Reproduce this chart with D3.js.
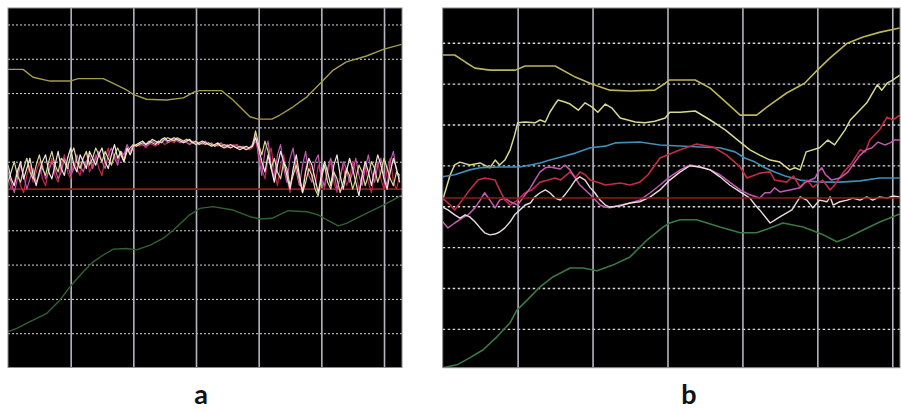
<!DOCTYPE html>
<html>
<head>
<meta charset="utf-8">
<script src="https://cdn.jsdelivr.net/npm/d3@7"></script>
<style>
body { margin: 0; background: #fff; }
svg { display: block; }
</style>
</head>
<body>
<script>
// ---- panel a data (x in grid units, 10 per vertical line; y in grid units, 10 per dotted line)
var aGridX = [10, 20, 30, 40, 50, 60];
var aGridY = [10, 20, 30, 40, 50, 60, 70, 80, 90, 100];
var aBaseline = 52.0;

var aOlive = [[0,86.9],[2.4,86.9],[4.0,84.6],[6.7,83.5],[9.9,83.5],[11.2,84.2],[15.2,84.2],[16.8,82.8],
  [18.9,80.9],[20.0,79.6],[22.1,78.2],[25.3,78.0],[28.0,78.6],[29.8,80.4],[30.6,80.7],[34.1,80.7],
  [35.9,78.0],[38.6,73.1],[39.9,72.4],[42.1,72.4],[43.4,73.6],[45.5,76.0],[47.7,78.9],[49.8,82.8],
  [51.9,86.7],[54.0,89.1],[57.2,90.8],[60.0,92.8],[62.8,94.2]];

var aGreen = [[0,10.6],[0.3,10.6],[1.4,11.4],[4.0,13.8],[6.2,15.8],[8.3,19.7],[10.1,24.0],[12.0,27.9],
  [13.6,30.8],[15.2,32.8],[16.8,34.5],[18.9,34.7],[20.5,34.3],[22.7,35.7],[24.8,37.7],[26.4,40.1],
  [29.0,44.5],[30.6,46.4],[32.7,46.9],[35.9,45.9],[38.6,44.0],[40.2,43.3],[42.1,43.5],[44.7,45.7],
  [47.7,45.4],[49.5,44.5],[50.9,43.0],[52.7,41.3],[54.0,42.0],[56.7,44.5],[59.4,46.9],[61.4,48.8],[62.9,50.3]];

// noisy traces, one value every 0.5 x units
var aCrimson = [55,52,54,58,53,51,56,59,54,57, 60,55,53,58,61,56,54,59,62,57,
  55,60,58,56,61,63,57,59,62,58, 56,61,64,59,62,60,63,61,64,62,
  64,65,64.5,65,64,65.5,65,64.5,65.5,66, 65,65.5,66,65.5,66.5,66,65.5,66,65,65.5,
  66,65.5,65,65.5,65,64.5,65,64.5,65,64.5, 64,64.5,65,64.5,64,64.5,64,63.5,64,
  66,63,58,55,61,64,57,53,59,62, 55,51,57,60,54,52,58,61,55,53,
  59,56,52,57,60,54,51,56,59,53, 55,60,57,52,55,59,54,51,57,60, 55,52,58,61,54,52,56];
var aMagenta = [57,54,51,55,59,56,52,55,58,54, 56,59,55,57,60,58,55,57,61,59,
  56,58,62,59,57,60,62,58,61,63, 60,58,62,64,61,59,63,62,65,63,
  65,64.5,65.5,65,64.5,65,66,65.5,65,66, 66.5,65.5,66,66.5,66,65.5,66,65.5,65,66,
  65.5,65,65.5,66,65,65.5,64.5,65,65.5,64.5, 65,64,64.5,65,64,64.5,63.5,64,65,
  68,61,56,63,66,59,55,62,65,58, 54,61,64,57,53,59,63,56,54,60,
  62,55,53,58,61,57,52,55,60,58, 54,57,61,56,53,58,62,57,54,59, 61,56,53,60,63,57,55];
var aPaleYellow = [54,57,60,56,54,58,61,57,55,59, 62,58,56,60,63,59,57,61,60,58,
  62,64,60,58,61,63,59,61,64,62, 60,63,61,59,62,64,62,60,63,64,
  65,64.5,65,65.5,65,66,65.5,65,66,65.5, 66.5,67,66.5,66,67,66.5,66,66.5,66,65.5,
  66,65,65.5,65,65.5,65,64.5,65,64.5,65, 64.5,64,64.5,64,64.5,64,63.5,64,64.5,
  69,65,62,66,63,58,61,57,55,60, 58,53,56,59,55,51,54,58,56,52,
  50,55,59,54,52,57,55,51,54,58, 56,52,55,59,57,53,56,60,58,54, 57,61,58,55,53,57,56];
var aCream = [59,55,53,57,60,55,58,61,56,53, 57,60,62,57,55,59,63,58,56,61,
  64,59,57,62,60,58,63,61,59,62, 64,60,58,62,65,61,63,60,64,62,
  64.5,65,65.5,66,65,65.5,66.5,66,65.5,66.5, 67,66,66.5,67,66.5,66,65.5,66,66.5,65.5,
  65,65.5,66,65.5,65,64.5,65,65.5,64.5,64, 64.5,65,64.5,64,63.5,64,64.5,64,64.5,
  67,64,60,57,62,58,54,59,63,60, 56,52,58,62,56,51,57,61,59,55,
  51,56,60,57,53,59,62,56,52,57, 61,58,54,50,56,60,57,53,58,62, 59,55,52,57,61,58,54];

// ---- panel b data
var bGridX = [10, 20, 30, 40, 50, 60];
var bGridY = [10, 20, 30, 40, 50, 60, 70, 80];
var bBaseline = 42.0;

var bOlive = [[0,77.0],[1.6,77.0],[3.0,75.3],[4.3,73.8],[6.3,73.3],[9.7,73.3],[11.0,74.3],[15.0,74.3],
  [17.7,71.6],[19.9,69.9],[22.3,68.4],[25.0,68.2],[28.3,68.4],[29.7,70.1],[30.3,70.9],[33.7,70.9],
  [35.7,68.9],[37.9,65.3],[39.7,62.3],[41.9,62.3],[43.3,64.3],[45.9,67.7],[48.3,70.1],[50.0,73.3],
  [51.7,76.3],[54.0,79.9],[56.1,81.4],[58.4,82.6],[61.0,83.6]];

var bYellow = [[0,41.5],[1.0,47.7],[1.6,50.1],[2.3,50.8],[3.6,50.1],[5.0,50.6],[6.3,49.4],[7.0,51.3],
  [7.6,50.1],[8.3,51.3],[9.0,53.8],[9.6,57.4],[10.0,60.4],[11.0,60.6],[12.3,60.4],[13.0,61.1],
  [13.7,60.6],[14.3,63.0],[15.0,65.0],[15.4,66.0],[16.3,65.5],[17.0,65.0],[18.1,63.5],[19.0,65.3],
  [19.9,64.3],[20.7,63.0],[21.7,65.0],[22.6,64.0],[23.7,61.6],[24.7,61.1],[25.7,60.6],[27.0,60.4],
  [28.3,60.8],[29.7,61.6],[30.3,63.0],[31.7,63.0],[33.7,63.3],[35.7,61.1],[37.7,58.7],[39.7,55.7],
  [41.0,53.8],[42.3,52.5],[43.7,51.3],[45.0,50.8],[46.3,48.9],[47.0,49.4],[47.7,48.9],[48.5,53.3],
  [50.3,54.3],[51.4,56.2],[52.3,55.0],[53.7,58.7],[54.4,61.1],[55.3,62.8],[56.6,65.3],[58.0,69.7],
  [58.6,68.4],[59.3,70.1],[60.1,70.9],[61.0,72.1]];

var bBlue = [[0,47.2],[1.6,47.7],[3.6,48.9],[5.0,49.4],[7.6,49.6],[10.3,49.6],[11.7,50.1],[13.0,50.6],
  [14.3,51.3],[15.7,52.0],[17.7,53.0],[19.7,54.3],[21.7,54.7],[23.0,55.5],[26.3,55.7],[29.0,55.0],
  [34.3,54.5],[37.0,54.3],[39.0,53.3],[40.3,51.8],[41.7,50.8],[43.0,49.4],[44.3,48.4],[45.7,47.4],
  [47.7,46.4],[50.3,45.9],[53.0,45.9],[55.7,46.2],[58.3,46.9],[61.0,46.9]];

var bRed = [[0,42.0],[1.0,40.3],[1.6,39.1],[2.6,41.5],[3.6,44.0],[4.7,46.4],[5.6,46.9],[7.0,46.4],
  [7.6,44.0],[8.3,41.5],[9.0,40.3],[10.0,41.5],[11.0,43.3],[11.9,44.0],[13.0,45.9],[14.1,46.4],
  [15.0,46.9],[15.7,46.4],[17.0,48.4],[17.7,46.9],[18.3,48.4],[19.0,47.7],[19.7,46.4],[21.0,45.7],
  [21.7,45.2],[23.7,45.7],[25.0,45.2],[26.3,45.9],[27.4,47.7],[29.0,51.8],[31.7,53.8],[33.9,55.2],
  [36.1,54.5],[37.9,52.5],[39.7,49.6],[40.6,46.9],[42.3,48.1],[43.7,48.4],[44.3,46.4],[45.9,45.9],
  [46.8,47.4],[47.7,44.7],[48.6,46.4],[49.4,44.7],[50.7,46.4],[51.7,44.0],[52.3,45.2],[53.4,48.1],
  [54.6,50.6],[55.7,53.8],[56.4,53.3],[57.0,56.2],[58.3,58.7],[59.3,61.8],[60.1,61.1],[61.0,62.3]];

var bMagenta = [[0,36.2],[0.7,34.7],[1.6,35.9],[2.6,37.1],[3.4,37.9],[4.3,39.6],[5.0,41.5],[5.6,43.3],
  [6.3,41.5],[7.0,39.6],[7.6,41.5],[8.3,42.0],[9.0,41.1],[10.0,40.3],[11.0,42.8],[11.7,44.5],
  [12.3,46.4],[13.0,48.4],[13.7,49.4],[14.3,49.6],[15.7,49.1],[16.3,50.1],[17.0,48.9],[17.7,46.9],
  [18.3,45.2],[19.7,42.8],[21.0,40.3],[21.7,39.8],[22.3,39.6],[23.7,40.3],[25.0,40.8],[26.3,41.5],
  [27.7,43.3],[29.0,45.2],[30.3,47.2],[31.7,48.9],[33.0,50.1],[34.3,49.6],[35.7,48.9],[37.0,47.7],
  [38.3,45.9],[39.7,44.0],[41.0,42.8],[42.3,42.0],[43.0,43.3],[43.7,43.3],[44.3,44.5],[45.0,43.5],
  [46.3,44.0],[47.7,44.5],[48.3,45.7],[49.0,46.4],[49.7,46.9],[50.1,48.4],[50.6,49.4],[51.1,47.7],
  [51.9,46.4],[53.0,46.9],[54.1,48.4],[55.0,50.8],[55.7,52.5],[56.5,53.8],[57.3,54.3],[58.1,55.7],
  [59.0,55.0],[59.7,55.5],[60.3,56.2],[61.0,56.2]];

var bWhite = [[0,39.8],[0.7,39.1],[1.6,37.9],[2.3,37.1],[3.0,37.9],[3.6,37.4],[4.3,36.2],[5.0,34.7],
  [5.6,33.5],[6.3,33.0],[7.0,33.2],[7.6,33.7],[8.3,34.7],[9.0,36.2],[9.6,37.9],[10.3,39.1],
  [11.0,40.3],[11.7,40.8],[12.3,42.3],[13.0,43.3],[13.7,44.0],[14.3,43.3],[15.0,42.0],[15.7,41.5],
  [16.3,42.8],[17.0,44.5],[17.7,46.4],[18.3,47.2],[19.0,46.4],[19.7,44.5],[20.3,43.3],[21.0,41.5],
  [21.7,40.3],[22.3,39.8],[23.7,40.1],[25.0,40.8],[26.3,41.1],[27.7,42.3],[29.0,44.0],[30.3,46.4],
  [31.7,48.4],[33.0,49.9],[34.3,49.6],[35.7,48.9],[37.0,47.2],[38.3,45.2],[39.7,43.5],[41.0,42.0],
  [41.7,40.3],[42.3,39.1],[43.7,35.9],[45.0,37.4],[46.6,39.1],[47.7,42.3],[48.6,41.5],[49.4,39.6],
  [50.3,41.5],[51.3,41.1],[51.7,42.3],[52.1,40.3],[53.0,41.1],[54.0,41.5],[54.7,42.0],[55.7,41.5],
  [56.6,42.3],[57.4,41.5],[58.3,42.3],[59.3,42.0],[60.1,42.5],[61.0,42.3]];

var bGreen = [[0,0.5],[1.9,1.2],[3.6,2.9],[5.4,4.9],[7.2,8.0],[9.0,11.5],[9.9,14.6],[11.3,17.1],
  [13.0,20.3],[14.7,22.7],[17.0,24.9],[18.7,24.9],[20.6,24.2],[22.7,25.6],[25.0,27.6],[27.3,31.8],
  [29.4,34.9],[30.3,35.9],[31.7,36.7],[33.9,36.7],[37.0,34.9],[39.7,33.5],[41.9,33.5],[43.7,34.7],
  [45.4,35.9],[48.1,34.9],[50.8,33.0],[52.6,31.3],[53.9,32.2],[56.1,34.2],[58.4,36.2],[61.0,38.1]];

var panelLabels = ["a", "b"];

// ---- drawing
var svg = d3.select("body").append("svg").attr("width", 901).attr("height", 412);

function indexed(values) {
  return values.map(function(v, i) { return [i * 0.5, v]; });
}

function drawPanel(p) {
  var x = d3.scaleLinear().domain(p.xDomain).range(p.xRange);
  var y = d3.scaleLinear().domain(p.yDomain).range(p.yRange);
  var x0 = p.xRange[0], x1 = p.xRange[1], y0 = p.yRange[1], y1 = p.yRange[0];

  var g = svg.append("g");
  g.append("rect").attr("x", x0).attr("y", y0).attr("width", x1 - x0).attr("height", y1 - y0)
    .attr("fill", "#000");

  // dotted horizontal grid
  var gy = g.append("g").attr("transform", "translate(" + x0 + ",0)")
    .call(d3.axisLeft(y).tickValues(p.gridY).tickSize(-(x1 - x0)).tickFormat(""));
  gy.select(".domain").remove();
  gy.selectAll("line").attr("stroke", "#d8d8d8").attr("stroke-width", p.dotWidth)
    .attr("stroke-dasharray", p.dash);

  // solid vertical grid
  var gx = g.append("g").attr("transform", "translate(0," + y1 + ")")
    .call(d3.axisBottom(x).tickValues(p.gridX).tickSize(-(y1 - y0)).tickFormat(""));
  gx.select(".domain").remove();
  gx.selectAll("line").attr("stroke", "#b4b4c2").attr("stroke-width", 1.6);

  var clipId = "clip-" + p.label;
  svg.append("clipPath").attr("id", clipId).append("rect")
    .attr("x", x0).attr("y", y0).attr("width", x1 - x0).attr("height", y1 - y0);

  var line = d3.line().x(function(d) { return x(d[0]); }).y(function(d) { return y(d[1]); });
  var lines = g.append("g").attr("clip-path", "url(#" + clipId + ")");

  p.series.forEach(function(s) {
    lines.append("path").attr("d", line(s.data))
      .attr("fill", "none").attr("stroke", s.color).attr("stroke-width", s.width || 1.4)
      .attr("stroke-linejoin", "round");
  });

  g.append("rect").attr("x", x0).attr("y", y0).attr("width", x1 - x0).attr("height", y1 - y0)
    .attr("fill", "none").attr("stroke", "#8c8c8c").attr("stroke-width", 1);

  svg.append("text").attr("x", p.labelX).attr("y", 404).attr("text-anchor", "middle")
    .attr("font-family", "Lato, 'Liberation Sans', Arial, sans-serif").attr("font-weight", "bold")
    .attr("font-size", 27).attr("fill", "#111").text(p.label);
}

drawPanel({
  label: panelLabels[0], labelX: 201,
  xDomain: [0, 62.87], xRange: [8, 402],
  yDomain: [0, 104.8], yRange: [367.5, 8],
  gridX: aGridX, gridY: aGridY, dash: "2,2", dotWidth: 1,
  series: [
    { data: [[0, aBaseline], [62.87, aBaseline]], color: "#8e1c1c", width: 1.6 },
    { data: aGreen, color: "#2f6332" },
    { data: aOlive, color: "#a59c4c" },
    { data: indexed(aCrimson), color: "#c4284c", width: 1.2 },
    { data: indexed(aMagenta), color: "#c457b0", width: 1.2 },
    { data: indexed(aPaleYellow), color: "#d9d893", width: 1.2 },
    { data: indexed(aCream), color: "#f2e6e0", width: 1.2 }
  ]
});

drawPanel({
  label: panelLabels[1], labelX: 689,
  xDomain: [0, 61.03], xRange: [442.7, 900],
  yDomain: [0.5, 88.5], yRange: [367.7, 8],
  gridX: bGridX, gridY: bGridY, dash: "2.5,2.5", dotWidth: 1.4,
  series: [
    { data: bGreen, color: "#3a7a42", width: 1.6 },
    { data: bOlive, color: "#bdb55a", width: 1.6 },
    { data: bYellow, color: "#d8d88e", width: 1.5 },
    { data: bBlue, color: "#3f8fb8", width: 1.6 },
    { data: bRed, color: "#c42a40", width: 1.6 },
    { data: bMagenta, color: "#c25ab2", width: 1.5 },
    { data: bWhite, color: "#e8dcdc", width: 1.4 },
    { data: [[0, bBaseline], [61.03, bBaseline]], color: "#8e1c1c", width: 1.4 }
  ]
});
</script>
</body>
</html>
